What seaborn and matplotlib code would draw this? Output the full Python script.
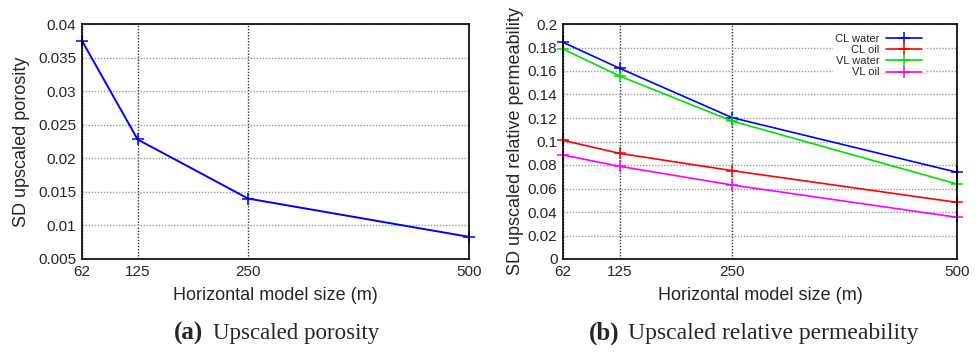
import matplotlib
matplotlib.use("Agg")
import matplotlib.pyplot as plt
import seaborn as sns
import pandas as pd

# ---- data ----
model_size = [62, 125, 250, 500]
xtick_labels = ["62", "125", "250", "500"]
porosity_sd = [0.0375, 0.0228, 0.0140, 0.0083]

series_names = ["CL water", "CL oil", "VL water", "VL oil"]
cl_water = [0.1844, 0.1623, 0.1203, 0.0738]
cl_oil = [0.1010, 0.0899, 0.0752, 0.0482]
vl_water = [0.1787, 0.1557, 0.1174, 0.0638]
vl_oil = [0.0885, 0.0789, 0.0630, 0.0355]
series_colors = ["#0000ff", "#ff0000", "#00e000", "#ff00ff"]

left_yticks = [0.005, 0.01, 0.015, 0.02, 0.025, 0.03, 0.035, 0.04]
left_yticklabels = ["0.005", "0.01", "0.015", "0.02", "0.025", "0.03", "0.035", "0.04"]
right_yticks = [0, 0.02, 0.04, 0.06, 0.08, 0.1, 0.12, 0.14, 0.16, 0.18, 0.2]
right_yticklabels = ["0", "0.02", "0.04", "0.06", "0.08", "0.1", "0.12", "0.14", "0.16", "0.18", "0.2"]

sns.set_style("white")
plt.rcParams["font.family"] = ["Liberation Sans", "DejaVu Sans"]

W, H = 976, 353
fig = plt.figure(figsize=(W / 100, H / 100), dpi=100)

def px_axes(l, r, t, b):
    return fig.add_axes([l / W, 1 - b / H, (r - l) / W, (b - t) / H])

ax1 = px_axes(82, 469, 24, 259)
ax2 = px_axes(563, 957, 24, 259)

df1 = pd.DataFrame({"size": model_size, "sd": porosity_sd})
sns.lineplot(data=df1, x="size", y="sd", ax=ax1, color="#0000ff",
             marker="+", markersize=8, markeredgewidth=1.1, linewidth=1.4)

long = []
for name, vals in zip(series_names, [cl_water, cl_oil, vl_water, vl_oil]):
    for xv, yv in zip(model_size, vals):
        long.append({"size": xv, "sd": yv, "series": name})
df2 = pd.DataFrame(long)
sns.lineplot(data=df2, x="size", y="sd", hue="series", hue_order=series_names,
             palette=series_colors, ax=ax2, marker="+", markersize=8,
             markeredgewidth=1.1, linewidth=1.2)

for ax in (ax1, ax2):
    for ln in ax.get_lines():
        ln.set_markeredgecolor(ln.get_color())
        ln.set_clip_on(False)

def style(ax, yticks, ylabels, ylim, ylabel, ylabelpad):
    ax.set_xlim(62, 500)
    ax.set_ylim(*ylim)
    ax.set_xticks(model_size)
    ax.set_xticklabels(xtick_labels, fontsize=11)
    ax.set_yticks(yticks)
    ax.set_yticklabels(ylabels, fontsize=11)
    ax.tick_params(length=0, pad=4)
    ax.yaxis.grid(True, color="#999999", linestyle=(0, (1, 1.2)), linewidth=1.0)
    ax.xaxis.grid(True, color="#333333", linestyle=(0, (1, 1.2)), linewidth=1.0)
    ax.set_axisbelow(True)
    for s in ax.spines.values():
        s.set_color("black")
        s.set_linewidth(1.2)
        s.set_visible(True)
    ax.set_xlabel("Horizontal model size (m)", fontsize=13, labelpad=6)
    ax.set_ylabel(ylabel, fontsize=13, labelpad=ylabelpad)

style(ax1, left_yticks, left_yticklabels, (0.005, 0.04), "SD upscaled porosity", 6)
style(ax2, right_yticks, right_yticklabels, (0, 0.2), "SD upscaled relative permeability", 3)

leg = ax2.legend(loc="upper right", bbox_to_anchor=(0.93, 0.99), markerfirst=False,
                 fontsize=8, frameon=True, framealpha=1, edgecolor="white",
                 handlelength=3.2, handletextpad=0.6, labelspacing=0.1,
                 borderpad=0.2, fancybox=False)
for t in leg.get_texts():
    t.set_ha("right")
for ln in leg.get_lines():
    ln.set_markeredgecolor(ln.get_color())
leg._legend_box.align = "right"

cap_font = ["Liberation Serif", "DejaVu Serif"]
fig.text(203 / W, 1 - 333 / H, "(a)", fontsize=18, fontweight="bold",
         family=cap_font, ha="right", va="center")
fig.text(213 / W, 1 - 333 / H, "Upscaled porosity", fontsize=16.5,
         family=cap_font, ha="left", va="center")
fig.text(620 / W, 1 - 333 / H, "(b)", fontsize=18, fontweight="bold",
         family=cap_font, ha="right", va="center")
fig.text(628 / W, 1 - 333 / H, "Upscaled relative permeability", fontsize=17,
         family=cap_font, ha="left", va="center")

fig.savefig("out.png", dpi=100)
